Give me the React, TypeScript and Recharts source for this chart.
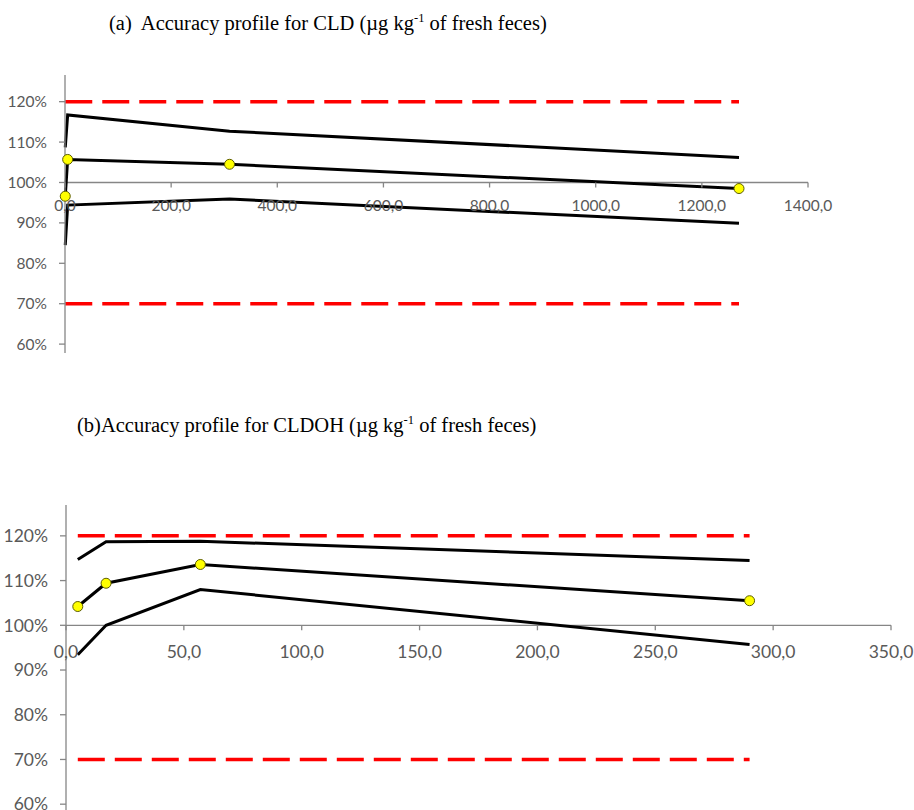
import React from 'react';
import {
    ComposedChart,
    Line,
    XAxis,
    YAxis,
    ReferenceLine,
    ReferenceDot
} from 'recharts';

// (a) CLD, µg/kg of fresh feces
const cldConc = [0.5, 5, 310, 1270];
const cldMean = [0.966, 1.057, 1.045, 0.985];
const cldUpper = [1.087, 1.167, 1.127, 1.062];
const cldLower = [0.845, 0.944, 0.959, 0.899];
const cldTicks = [0, 200, 400, 600, 800, 1000, 1200, 1400];

// (b) CLDOH
const cldohConc = [5, 17, 57, 290];
const cldohMean = [1.042, 1.094, 1.136, 1.055];
const cldohUpper = [1.147, 1.187, 1.188, 1.145];
const cldohLower = [0.934, 1.0, 1.08, 0.957];
const cldohTicks = [0, 50, 100, 150, 200, 250, 300, 350];

const acceptHigh = 1.2;
const acceptLow = 0.7;
const pctTicks = [0.6, 0.7, 0.8, 0.9, 1.0, 1.1, 1.2];

const AXIS = '#868686';
const LABEL = '#595959';
const LABEL_FONT = 'Lato, "Open Sans", sans-serif';

const buildRows = (conc: number[], mean: number[], upper: number[], lower: number[]) =>
    conc.map((c, i) => ({
        conc: c,
        mean: mean[i],
        upper: upper[i],
        lower: lower[i],
        hi: acceptHigh,
        lo: acceptLow
    }));

const fmtX = (v: number) => v.toFixed(1).replace('.', ',');
const fmtPct = (v: number) => `${Math.round(v * 100)}%`;

interface ProfileProps {
    rows: ReturnType<typeof buildRows>;
    xMax: number;
    xTicks: number[];
    yDomain: [number, number];
    height: number;
    margin: { top: number; right: number; bottom: number; left: number };
    fontSize: number;
    labelDrop: number;
}

const Profile: React.FC<ProfileProps> = ({ rows, xMax, xTicks, yDomain, height, margin, fontSize, labelDrop }) => (
    <ComposedChart width={914} height={height} data={rows} margin={margin} style={{ overflow: 'visible' }}>
        <XAxis dataKey="conc" type="number" domain={[0, xMax]} hide height={0} />
        <YAxis
            type="number"
            domain={yDomain}
            ticks={pctTicks}
            interval={0}
            allowDataOverflow
            width={55}
            tickFormatter={fmtPct}
            axisLine={{ stroke: AXIS, strokeWidth: 1.3 }}
            tickLine={{ stroke: AXIS, strokeWidth: 1.3 }}
            tickSize={6}
            tickMargin={12}
            tick={{ fill: LABEL, fontSize, fontFamily: LABEL_FONT }}
        />
        <ReferenceLine y={1} stroke={AXIS} strokeWidth={1.3} />
        {xTicks.map((t) => (
            <ReferenceDot
                key={`xt-${t}`}
                x={t}
                y={1}
                r={0}
                ifOverflow="visible"
                shape={(p: any) => (
                    <g>
                        <line x1={p.cx} y1={p.cy} x2={p.cx} y2={p.cy + 5} stroke={AXIS} strokeWidth={1.3} />
                        <text
                            x={p.cx}
                            y={p.cy + labelDrop}
                            textAnchor="middle"
                            dominantBaseline="central"
                            fill={LABEL}
                            fontSize={fontSize}
                            fontFamily={LABEL_FONT}
                        >
                            {fmtX(t)}
                        </text>
                    </g>
                )}
            />
        ))}
        <Line dataKey="hi" stroke="#ff0000" strokeWidth={3.5} strokeDasharray="27 10" dot={false} isAnimationActive={false} />
        <Line dataKey="lo" stroke="#ff0000" strokeWidth={3.5} strokeDasharray="27 10" dot={false} isAnimationActive={false} />
        <Line dataKey="upper" stroke="#000" strokeWidth={3} dot={false} isAnimationActive={false} />
        <Line dataKey="lower" stroke="#000" strokeWidth={3} dot={false} isAnimationActive={false} />
        <Line
            dataKey="mean"
            stroke="#000"
            strokeWidth={3}
            dot={{ r: 5, fill: '#ffff00', stroke: '#5c5c00', strokeWidth: 1 }}
            isAnimationActive={false}
        />
    </ComposedChart>
);

const titleStyle: React.CSSProperties = {
    position: 'absolute',
    fontFamily: '"Liberation Serif", "Times New Roman", serif',
    fontSize: 20.5,
    color: '#000',
    whiteSpace: 'nowrap',
    lineHeight: 1
};

export default function App() {
    const rowsA = buildRows(cldConc, cldMean, cldUpper, cldLower);
    const rowsB = buildRows(cldohConc, cldohMean, cldohUpper, cldohLower);

    return (
        <div style={{ position: 'absolute', left: 0, top: 0, width: 914, height: 810, overflow: 'hidden', background: '#fff' }}>
            <div style={{ ...titleStyle, left: 109, top: 12 }}>
                (a)&nbsp; Accuracy profile for CLD (µg kg<sup style={{ fontSize: 12.5 }}>-1</sup> of fresh feces)
            </div>
            <div style={{ position: 'absolute', left: 0, top: 0 }}>
                <Profile
                    rows={rowsA}
                    xMax={1400}
                    xTicks={cldTicks}
                    yDomain={[0.578, 1.266]}
                    height={360}
                    margin={{ top: 75, right: 106, bottom: 7, left: 10 }}
                    fontSize={15.5}
                    labelDrop={23}
                />
            </div>
            <div style={{ ...titleStyle, left: 77, top: 414 }}>
                (b)Accuracy profile for CLDOH (µg kg<sup style={{ fontSize: 12.5 }}>-1</sup> of fresh feces)
            </div>
            <div style={{ position: 'absolute', left: 0, top: 480 }}>
                <Profile
                    rows={rowsB}
                    xMax={350}
                    xTicks={cldohTicks}
                    yDomain={[0.587, 1.269]}
                    height={330}
                    margin={{ top: 25, right: 23, bottom: 0, left: 11 }}
                    fontSize={17.5}
                    labelDrop={26}
                />
            </div>
        </div>
    );
}
